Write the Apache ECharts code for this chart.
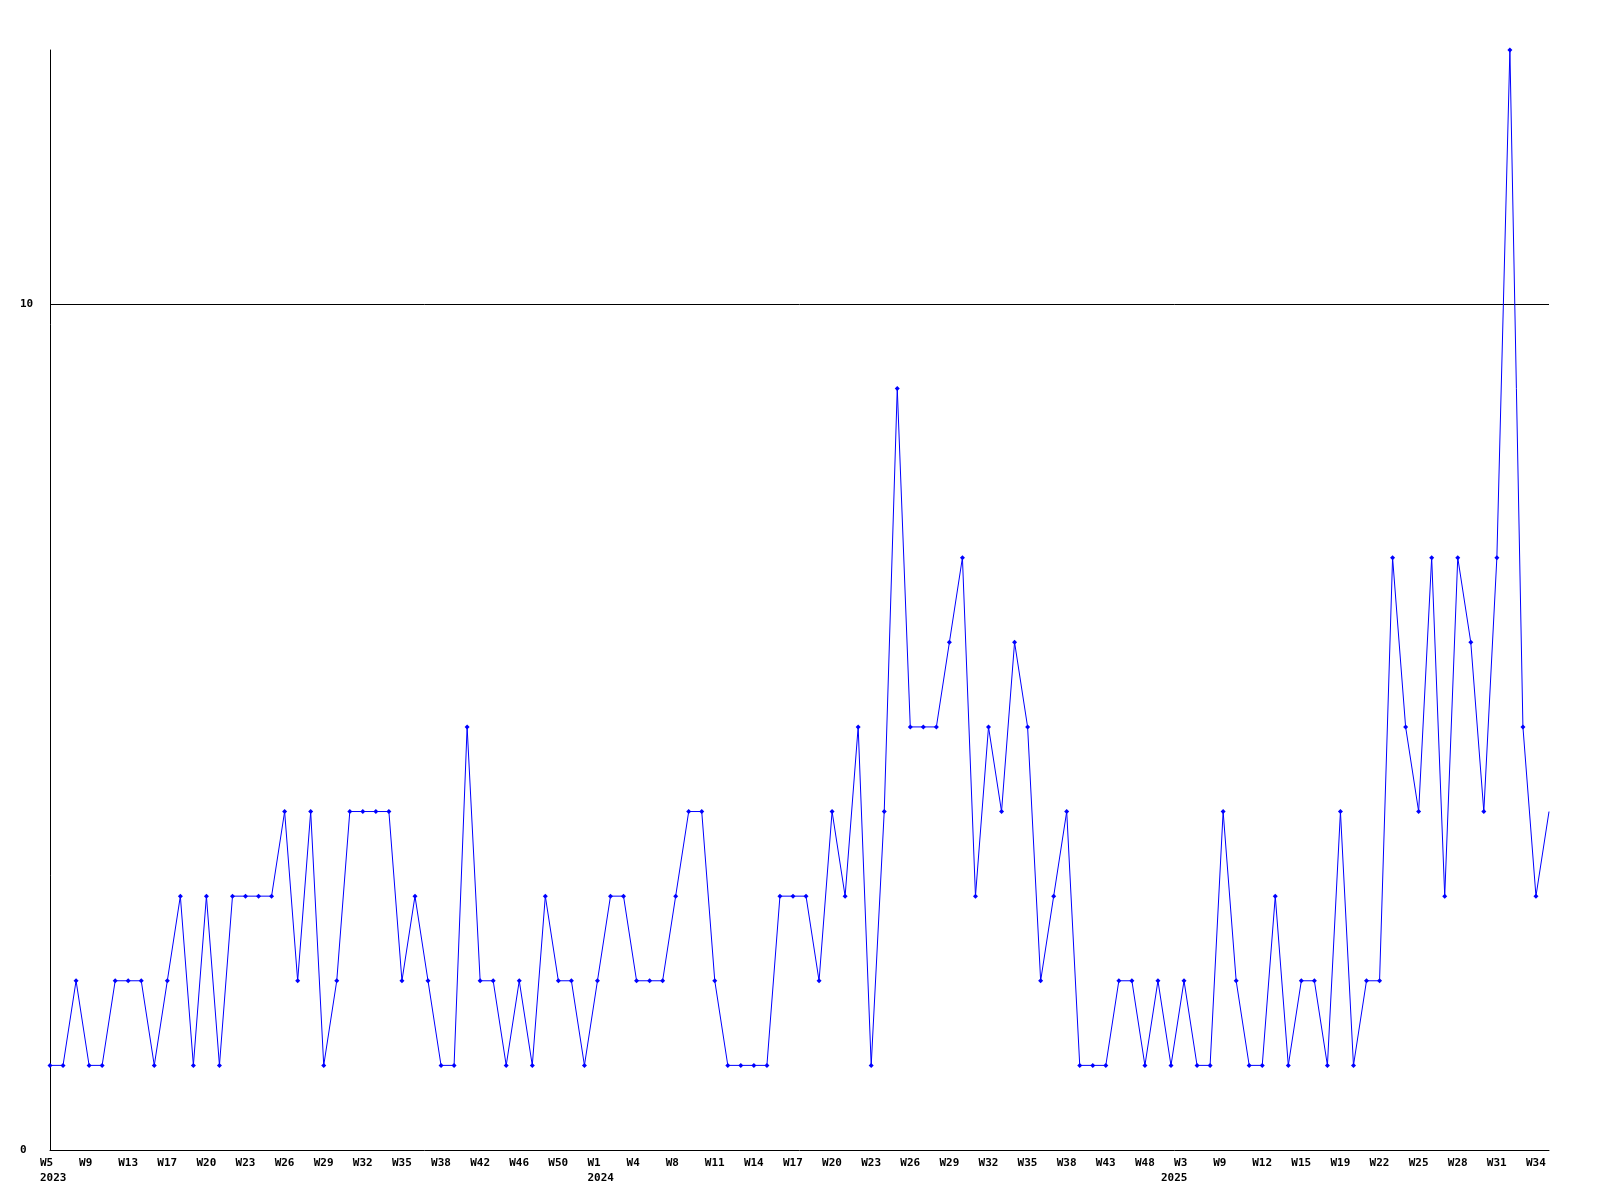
<!DOCTYPE html>
<html>
<head>
<meta charset="utf-8">
<script src="https://cdn.jsdelivr.net/npm/echarts@6/dist/echarts.min.js"></script>
<style>
html,body{margin:0;padding:0;background:#fff;}
#chart{width:1600px;height:1200px;}
</style>
</head>
<body>
<div id="chart"></div>
<script>
// Week categories (only weeks with data are present)
const weeks = [
  'W5','W6','W7','W9','W10','W11','W13','W14','W16','W17','W18','W19','W20','W21','W22','W23','W24','W25','W26','W27','W28','W29','W30','W31','W32','W33','W34','W35','W36','W37','W38','W39','W40','W42','W43','W44','W46','W47','W48','W50','W51','W52',
  'W1','W2','W3','W4','W5','W6','W8','W9','W10','W11','W12','W13','W14','W15','W16','W17','W18','W19','W20','W21','W22','W23','W24','W25','W26','W27','W28','W29','W30','W31','W32','W33','W34','W35','W36','W37','W38','W39','W41','W43','W44','W46','W48','W50',
  'W1','W3','W5','W7','W9','W10','W11','W12','W13','W14','W15','W16','W18','W19','W20','W21','W22','W23','W24','W25','W26','W27','W28','W29','W30','W31','W32','W33','W34','W35'
];
const years = [].concat(
  Array(42).fill('2023'),
  Array(44).fill('2024'),
  Array(30).fill('2025')
);
const values = [
  1,1,2,1,1,2,2,2,1,2,
  3,1,3,1,3,3,3,3,4,2,
  4,1,2,4,4,4,4,2,3,2,
  1,1,5,2,2,1,2,1,3,2,
  2,1,2,3,3,2,2,2,3,4,
  4,2,1,1,1,1,3,3,3,2,
  4,3,5,1,4,9,5,5,5,6,
  7,3,5,4,6,5,2,3,4,1,
  1,1,2,2,1,2,1,2,1,1,
  4,2,1,1,3,1,2,2,1,4,
  1,2,2,7,5,4,7,3,7,6,
  4,7,13,5,3,4
];
const yTicks = [0, 10];

const LABEL_STEP = 3;
// first index of each year carries the year label
const yearStart = {};
for (let i = 0; i < years.length; i++) {
  if (i === 0 || years[i] !== years[i - 1]) yearStart[i] = true;
}

const FONT = '"DejaVu Sans Mono", "Liberation Mono", monospace';
const labelRich = {
  a: {width: 20, align: 'left', fontFamily: FONT, fontWeight: 'bold', fontSize: 11, color: '#000', lineHeight: 15}
};
const chart = echarts.init(document.getElementById('chart'), null, {renderer: 'canvas'});
chart.setOption({
  animation: false,
  backgroundColor: '#ffffff',
  grid: {left: 50, right: 51, top: 50, bottom: 50, containLabel: false},
  xAxis: [{
    type: 'category',
    data: weeks,
    boundaryGap: false,
    axisLine: {show: true, onZero: false, lineStyle: {color: '#000', width: 1}},
    axisTick: {show: false},
    splitLine: {show: false},
    axisLabel: {
      interval: LABEL_STEP - 1,
      margin: 6,
      align: 'center',
      formatter: function (val) { return '{a|' + val + '}'; },
      rich: labelRich
    }
  }, {
    type: 'category',
    position: 'bottom',
    data: years,
    boundaryGap: false,
    axisLine: {show: false},
    axisTick: {show: false},
    splitLine: {show: false},
    axisLabel: {
      interval: function (idx) { return !!yearStart[idx]; },
      margin: 21,
      align: 'center',
      formatter: function (val) { return '{a|' + val + '}'; },
      rich: labelRich
    }
  }],
  yAxis: {
    type: 'value',
    min: 0,
    max: 13,
    interval: 10,
    axisLine: {show: true, lineStyle: {color: '#000', width: 1}},
    axisTick: {show: false},
    splitLine: {show: true, showMinLine: false, showMaxLine: false, lineStyle: {color: '#000', width: 1}},
    axisLabel: {
      showMaxLabel: false,
      align: 'left',
      margin: 30,
      fontFamily: FONT,
      fontWeight: 'bold',
      fontSize: 11,
      color: '#000',
      formatter: function (v) { return yTicks.indexOf(v) >= 0 ? String(v) : ''; }
    }
  },
  series: [{
    type: 'line',
    xAxisIndex: 0,
    data: values.map(function (v, i) {
      return i === values.length - 1 ? {value: v, symbol: 'none'} : v;
    }),
    symbol: 'diamond',
    symbolSize: 5,
    showAllSymbol: true,
    lineStyle: {color: '#0000ff', width: 1},
    itemStyle: {color: '#0000ff'},
    clip: false
  }]
});
</script>
</body>
</html>
